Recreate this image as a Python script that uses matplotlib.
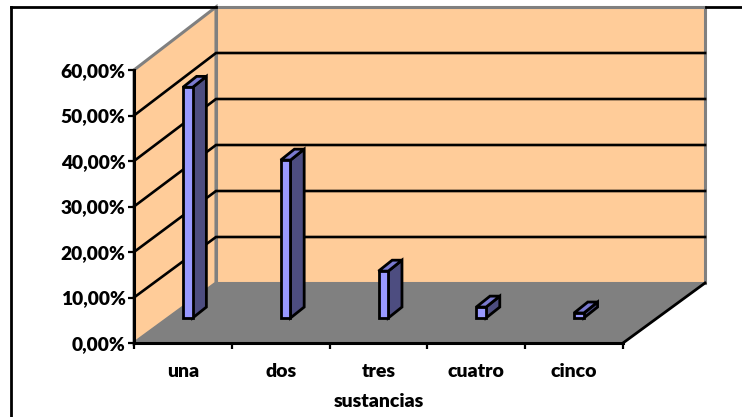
import matplotlib
matplotlib.use('Agg')
import matplotlib.pyplot as plt
from matplotlib.lines import Line2D

categories = ['una', 'dos', 'tres', 'cuatro', 'cinco']
values = [50.7, 34.7, 10.3, 2.4, 1.1]
y_ticks = [0, 10, 20, 30, 40, 50, 60]
y_labels = ['0,00%', '10,00%', '20,00%', '30,00%', '40,00%', '50,00%', '60,00%']

W, H = 742, 417
LEFT, RIGHT, TOP, BOTTOM = 134, 623, 70, 343

# depth of the fake 3d box, in data units
depth_x = 82 / (RIGHT - LEFT) * 5
depth_y = 60 / (BOTTOM - TOP) * 60
# the back wall comes out slightly taller than the front
back_scale = 276 / 273
# bars stand a bit inside the floor
lift = 5.5
bar_w = 0.1
bar_dx = 0.14
bar_dy = 2.4


def back_y(t):
    return depth_y + t * back_scale


plt.rcParams['font.family'] = ['Lato', 'DejaVu Sans']
plt.rcParams['font.weight'] = 'heavy'

fig = plt.figure(figsize=(W / 100, H / 100), dpi=100)
ax = fig.add_axes([LEFT / W, 1 - BOTTOM / H, (RIGHT - LEFT) / W, (BOTTOM - TOP) / H])
ax.patch.set_visible(False)
ax.set_xlim(0, 5)
ax.set_ylim(0, 60)

# walls and floor
wall = '#FFCC99'
gray = '#808080'
ax.fill([0, depth_x, depth_x, 0], [0, back_y(0), back_y(60), 60], fc=wall, ec=gray, lw=2.2, clip_on=False)
ax.fill([depth_x, 5 + depth_x, 5 + depth_x, depth_x], [back_y(0), back_y(0), back_y(60), back_y(60)],
        fc=wall, ec=gray, lw=2.2, clip_on=False)
ax.fill([0, 5, 5 + depth_x, depth_x], [0, 0, back_y(0), back_y(0)], fc=gray, ec=gray, lw=1, clip_on=False)
ax.plot([5, 5 + depth_x], [0, back_y(0)], color='black', lw=2, clip_on=False, zorder=2)

# gridlines go along the left wall and the back wall
for t in y_ticks[1:-1]:
    ax.plot([0, depth_x, 5 + depth_x], [t, back_y(t), back_y(t)], color='black', lw=1.9,
            clip_on=False, zorder=2, solid_joinstyle='miter')

# bars
for i, v in enumerate(values):
    x0 = i + 0.5
    x1 = x0 + bar_w
    y0 = lift
    y1 = lift + v
    ax.fill([x1, x1 + bar_dx, x1 + bar_dx, x1], [y0, y0 + bar_dy, y1 + bar_dy, y1],
            fc='#4D4D80', ec='black', lw=2, clip_on=False, zorder=3)
    ax.fill([x0, x0 + bar_dx, x1 + bar_dx, x1], [y1, y1 + bar_dy, y1 + bar_dy, y1],
            fc='#7A7AD0', ec='black', lw=2, clip_on=False, zorder=3)
    ax.fill([x0, x1, x1, x0], [y0, y0, y1, y1], fc='#9999FF', ec='black', lw=2, clip_on=False, zorder=3)

for s in ['top', 'right']:
    ax.spines[s].set_visible(False)
for s in ['left', 'bottom']:
    ax.spines[s].set_linewidth(2.2)
    ax.spines[s].set_zorder(4)

ax.set_yticks(y_ticks)
ax.set_yticklabels(y_labels, fontsize=13.8, fontweight='heavy')
ax.set_xticks(range(6))
ax.set_xticklabels([])
ax.set_xticks([i + 0.5 for i in range(5)], minor=True)
ax.set_xticklabels(categories, minor=True, fontsize=14, fontweight='heavy')
ax.tick_params(axis='both', which='major', length=4, width=1.6, color='black')
ax.tick_params(axis='y', pad=2)
ax.tick_params(axis='x', which='minor', length=0, pad=14.5)
ax.tick_params(axis='x', which='major', length=4)
ax.set_xlabel('sustancias', fontsize=14, fontweight='heavy', labelpad=9.5)

# outer frame, cut by the chart on top and open on the right and the bottom
line = dict(color='black', lw=2, transform=fig.transFigure)
fig.add_artist(Line2D([11 / W, 11 / W], [1 - 7 / H, 0], **line))
fig.add_artist(Line2D([11 / W, 216 / W], [1 - 7 / H, 1 - 7 / H], **line))
fig.add_artist(Line2D([706 / W, 1], [1 - 7 / H, 1 - 7 / H], **line))

fig.savefig('out.png', dpi=100)
